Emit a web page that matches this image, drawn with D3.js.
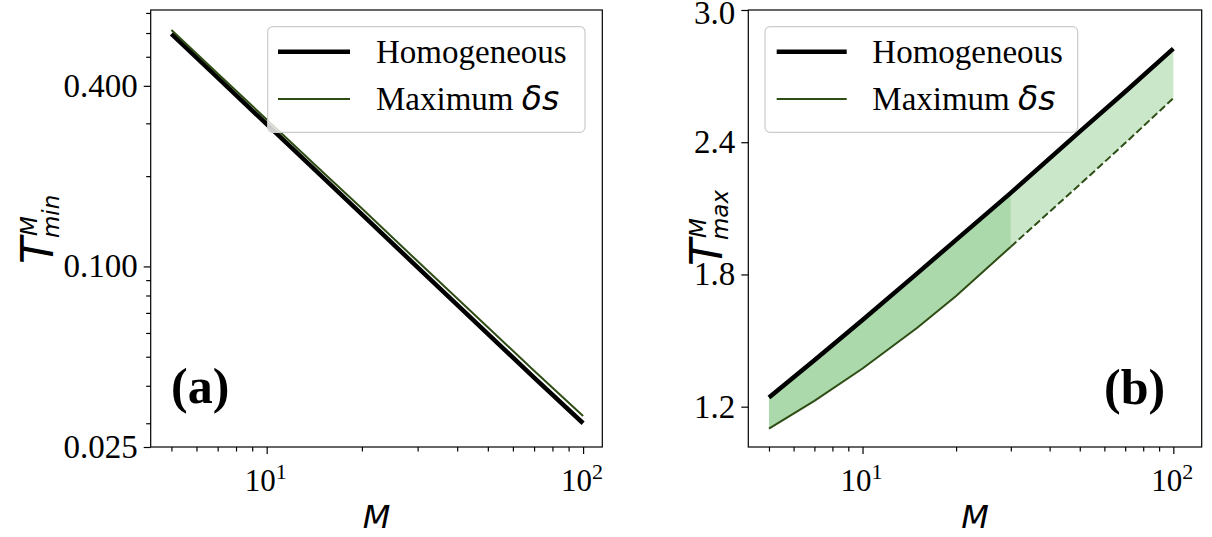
<!DOCTYPE html>
<html><head><meta charset="utf-8">
<script src="https://cdn.jsdelivr.net/npm/d3@7"></script>
<style>body{margin:0;background:#fff} svg{display:block}</style>
</head><body>
<svg id="c" width="1212" height="537"></svg>
<script>
// ---- data ----
const M = [5, 7, 10, 15, 20, 30, 50, 70, 100];
const tminHom = [0.596, 0.426, 0.298, 0.199, 0.149, 0.0993, 0.0596, 0.0426, 0.0300];
const tminMax = [0.614, 0.440, 0.309, 0.207, 0.156, 0.104, 0.0627, 0.0449, 0.0317];
const tmaxHom = [1.242, 1.411, 1.593, 1.805, 1.957, 2.170, 2.448, 2.629, 2.825];
const tmaxMax = [1.100, 1.226, 1.373, 1.558, 1.702, 1.926, 2.208, 2.396, 2.600];
const splitM = 30;
const xMajor = [10, 100];
const xMinor = [5, 6, 7, 8, 9, 20, 30, 40, 50, 60, 70, 80, 90];
const yLeftMajor = [0.025, 0.1, 0.4];
const yLeftMajorLabels = ["0.025", "0.100", "0.400"];
const yLeftMinor = [0.03, 0.04, 0.05, 0.06, 0.07, 0.08, 0.09, 0.2, 0.3, 0.5, 0.6, 0.7];
const yRightMajor = [1.2, 1.8, 2.4, 3.0];
const legendLabels = ["Homogeneous", "Maximum "];

const svg = d3.select("#c");
const SERIF = "'Liberation Serif','Times New Roman',serif";
const MATH = "'DejaVu Sans',sans-serif";
const GREEN = "#2e4d14";

const L = {x0: 150.7, x1: 602.3, y0: 10, y1: 447};
const R = {x0: 748.3, x1: 1201.7, y0: 10, y1: 447};

const xL = d3.scaleLog().domain([4.3, 115]).range([L.x0, L.x1]);
const yL = d3.scaleLog().domain([0.025, 0.716]).range([L.y1, L.y0]);
const xR = d3.scaleLog().domain([4.29, 123.4]).range([R.x0, R.x1]);
const yR = d3.scaleLinear().domain([1.017, 3.0]).range([R.y1, R.y0]);

function idx(a){ return a.map((_, i) => i); }

// ---------- right panel fills ----------
const iAll = idx(M);
const iA = iAll.filter(i => M[i] <= splitM);
const iB = iAll.filter(i => M[i] >= splitM);
const area = d3.area().x(i => xR(M[i])).y0(i => yR(tmaxMax[i])).y1(i => yR(tmaxHom[i]));
svg.append("path").attr("d", area(iA)).attr("fill", "#2ca02c").attr("fill-opacity", 0.4);
svg.append("path").attr("d", area(iB)).attr("fill", "#2ca02c").attr("fill-opacity", 0.25);

// ---------- lines ----------
const lineL = arr => d3.line().x(i => xL(M[i])).y(i => yL(arr[i]));
const lineR = arr => d3.line().x(i => xR(M[i])).y(i => yR(arr[i]));

svg.append("path").attr("d", lineL(tminHom)(iAll)).attr("fill", "none")
  .attr("stroke", "#000").attr("stroke-width", 4.5);
svg.append("path").attr("d", lineL(tminMax)(iAll)).attr("fill", "none")
  .attr("stroke", GREEN).attr("stroke-width", 2);

svg.append("path").attr("d", lineR(tmaxHom)(iAll)).attr("fill", "none")
  .attr("stroke", "#000").attr("stroke-width", 4.5);
svg.append("path").attr("d", lineR(tmaxMax)(iA)).attr("fill", "none")
  .attr("stroke", GREEN).attr("stroke-width", 2);
svg.append("path").attr("d", lineR(tmaxMax)(iB)).attr("fill", "none")
  .attr("stroke", GREEN).attr("stroke-width", 2).attr("stroke-dasharray", "7.4,3.2");

// ---------- axes ----------
function axisG(gen, tx, ty){
  const g = svg.append("g").attr("transform", `translate(${tx},${ty})`).call(gen);
  g.select(".domain").remove();
  g.selectAll("text").remove();
  g.selectAll("line").attr("stroke", "#000").attr("stroke-width", 1.2);
  return g;
}
// left panel
axisG(d3.axisBottom(xL).tickValues(xMajor).tickSize(7).tickFormat(""), 0, L.y1);
axisG(d3.axisBottom(xL).tickValues(xMinor).tickSize(4.5).tickFormat(""), 0, L.y1);
axisG(d3.axisLeft(yL).tickValues(yLeftMajor).tickSize(7).tickFormat(""), L.x0, 0);
axisG(d3.axisLeft(yL).tickValues(yLeftMinor).tickSize(4.5).tickFormat(""), L.x0, 0);
// right panel
axisG(d3.axisBottom(xR).tickValues(xMajor).tickSize(7).tickFormat(""), 0, R.y1);
axisG(d3.axisBottom(xR).tickValues(xMinor).tickSize(4.5).tickFormat(""), 0, R.y1);
axisG(d3.axisLeft(yR).tickValues(yRightMajor).tickSize(7).tickFormat(""), R.x0, 0);

// frames
[L, R].forEach(p => svg.append("rect").attr("x", p.x0).attr("y", p.y0)
  .attr("width", p.x1 - p.x0).attr("height", p.y1 - p.y0)
  .attr("fill", "none").attr("stroke", "#000").attr("stroke-width", 1.2));

// tick labels
yLeftMajor.forEach((v, i) => svg.append("text").attr("x", L.x0 - 13).attr("y", yL(v) + 11)
  .attr("text-anchor", "end").attr("font-family", SERIF).attr("font-size", 33).text(yLeftMajorLabels[i]));
yRightMajor.forEach(v => svg.append("text").attr("x", R.x0 - 13).attr("y", Math.max(yR(v) + 11, 24))
  .attr("text-anchor", "end").attr("font-family", SERIF).attr("font-size", 33).text(d3.format(".1f")(v)));

function xLab(sx, v){
  const e = Math.round(Math.log10(v));
  const x = sx(v);
  svg.append("text").attr("x", x - 22).attr("y", 491).attr("font-family", SERIF)
    .attr("font-size", 31).text("10");
  svg.append("text").attr("x", x + 9).attr("y", 479).attr("font-family", SERIF)
    .attr("font-size", 22).text(String(e));
}
xMajor.forEach(v => { xLab(xL, v); xLab(xR, v); });

// axis labels
[L, R].forEach(p => svg.append("text").attr("x", (p.x0 + p.x1) / 2).attr("y", 528)
  .attr("text-anchor", "middle").attr("font-family", MATH).attr("font-style", "italic")
  .attr("font-size", 32).text("M"));

function yLabel(tx, ty, sub){
  const g = svg.append("g").attr("transform", `translate(${tx},${ty}) rotate(-90)`);
  const t = g.append("text").attr("x", 0).attr("y", 0).attr("font-family", MATH)
    .attr("font-style", "italic").attr("font-size", 44).text("T");
  const w = t.node().getComputedTextLength();
  g.append("text").attr("x", w + 1).attr("y", -16).attr("font-family", MATH)
    .attr("font-style", "italic").attr("font-size", 23).text("M");
  g.append("text").attr("x", w - 1).attr("y", 6).attr("font-family", MATH)
    .attr("font-style", "italic").attr("font-size", 23).text(sub);
}
yLabel(53, 264, "min");
yLabel(722, 266, "max");

// panel labels
svg.append("text").attr("x", 171).attr("y", 403).attr("font-family", SERIF)
  .attr("font-weight", "bold").attr("font-size", 50).text("(a)");
svg.append("text").attr("x", 1104).attr("y", 404).attr("font-family", SERIF)
  .attr("font-weight", "bold").attr("font-size", 50).text("(b)");

// legends
function legend(bx, bw, hx0, hx1, tx){
  svg.append("rect").attr("x", bx).attr("y", 26.7).attr("width", bw).attr("height", 105.6)
    .attr("rx", 5).attr("fill", "#fff").attr("fill-opacity", 0.8)
    .attr("stroke", "#cccccc").attr("stroke-width", 1.2);
  svg.append("line").attr("x1", hx0).attr("x2", hx1).attr("y1", 51.7).attr("y2", 51.7)
    .attr("stroke", "#000").attr("stroke-width", 4.5);
  svg.append("line").attr("x1", hx0).attr("x2", hx1).attr("y1", 99).attr("y2", 99)
    .attr("stroke", GREEN).attr("stroke-width", 2);
  svg.append("text").attr("x", tx).attr("y", 63).attr("font-family", SERIF)
    .attr("font-size", 33).text(legendLabels[0]);
  const t2 = svg.append("text").attr("x", tx).attr("y", 110).attr("font-family", SERIF)
    .attr("font-size", 33);
  t2.append("tspan").text(legendLabels[1]);
  t2.append("tspan").attr("font-family", MATH).attr("font-style", "italic").text("δs");
}
legend(267.7, 317.3, 278, 350, 376);
legend(765, 312.7, 776.7, 846.7, 872.3);
</script>
</body></html>
